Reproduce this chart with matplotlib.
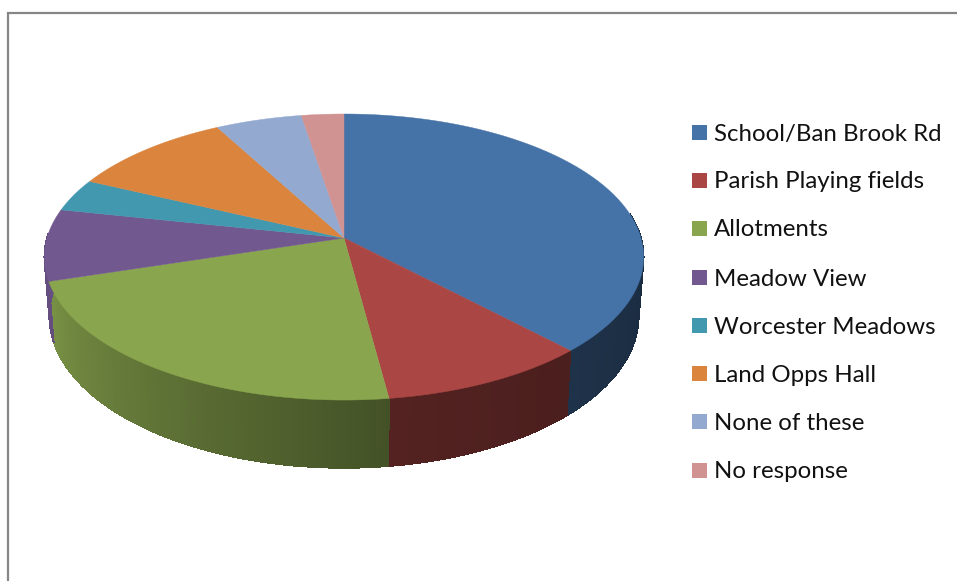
import numpy as np
import matplotlib
matplotlib.use("Agg")
import matplotlib.pyplot as plt
from matplotlib.patches import Polygon, Rectangle

labels = ["School/Ban Brook Rd", "Parish Playing fields", "Allotments", "Meadow View",
          "Worcester Meadows", "Land Opps Hall", "None of these", "No response"]
values = [37.9, 10.0, 22.3, 8.1, 3.7, 10.1, 5.3, 2.6]
colors = ["#4572A7", "#AA4643", "#89A54E", "#71588F", "#4198AF", "#DB843D", "#93A9CF", "#D19392"]

W, H = 957, 581
fig = plt.figure(figsize=(W / 100, H / 100), dpi=100)
ax = fig.add_axes([0, 0, 1, 1])
ax.set_xlim(0, W)
ax.set_ylim(H, 0)
ax.axis("off")

CX, CY, B = 344.0, 238.0, 0.133


def rim(theta, c, a, dy):
    X, Y = np.sin(theta), np.cos(theta)
    d = 1 + B * Y
    return CX + c * X / d, CY + dy - a * Y / d


def top(theta):
    return rim(theta, 297.0, 140.5, 0.0)


def bottom(theta):
    return rim(theta, 292.0, 149.0, 58.0)


def shade(theta):
    return np.interp(np.degrees(theta), [90, 172, 252, 270], [0.37, 0.49, 0.88, 0.9])


edges = np.concatenate([[0], np.cumsum(values)]) / np.sum(values) * 2 * np.pi
rgb = [np.array(matplotlib.colors.to_rgb(c)) for c in colors]

# side wall, drawn as narrow strips so its shade can run along the rim
for i in range(len(values)):
    a0, a1 = max(edges[i], np.radians(80)), min(edges[i + 1], np.radians(272))
    if a1 <= a0:
        continue
    steps = np.linspace(a0, a1, max(2, int(np.degrees(a1 - a0) * 1.5) + 1))
    for s0, s1 in zip(steps[:-1], steps[1:]):
        tt = np.array([s0, s1])
        xt, yt = top(tt)
        xb, yb = bottom(tt[::-1])
        col = rgb[i] * float(shade((s0 + s1) / 2))
        ax.add_patch(Polygon(np.c_[np.r_[xt, xb], np.r_[yt, yb]], closed=True,
                             fc=col, ec=col, lw=0.5, antialiased=False, zorder=2))

# top face
for i in range(len(values)):
    tt = np.linspace(edges[i], edges[i + 1], 200)
    xt, yt = top(tt)
    ax.add_patch(Polygon(np.c_[np.r_[CX, xt], np.r_[CY, yt]], closed=True,
                         fc=colors[i], ec=colors[i], lw=0.3, zorder=3))

# chart frame
ax.plot([8, 8, W], [H, 13, 13], color="#868686", lw=1.6, solid_joinstyle="miter", zorder=1)

# legend
legend_y = [132, 180, 228, 277, 325, 373, 421, 470]
for name, col, y in zip(labels, colors, legend_y):
    ax.add_patch(Rectangle((692, y - 7.5), 15, 15, fc=col, ec="none", zorder=4))
    ax.text(714, y, name, fontsize=17.3, family="Lato", color="#111111",
            va="center_baseline", ha="left", zorder=4)

fig.savefig("out.png", dpi=100)
